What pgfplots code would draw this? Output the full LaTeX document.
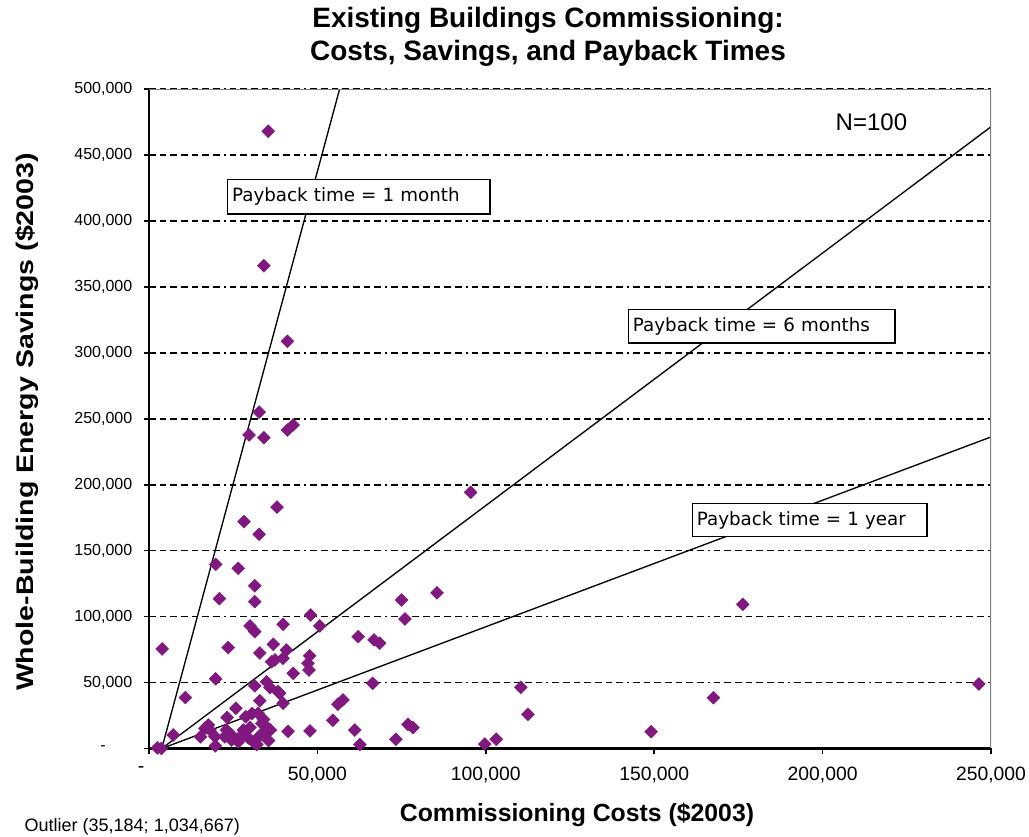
\documentclass[border=0pt]{standalone}
\usepackage{fontspec}
\setmainfont{Liberation Sans}
\newfontfamily\boxfont{DejaVu Sans}
\usepackage{pgfplots}
\pgfplotsset{compat=1.18}
\definecolor{mk}{RGB}{128,24,128}
\begin{document}
\begin{tikzpicture}
\path[use as bounding box] (0pt,0pt) rectangle (771.75pt,627.75pt);
\begin{axis}[
  at={(111.75pt,66.375pt)}, anchor=south west, scale only axis,
  width=631.5pt, height=494.6pt,
  xmin=0, xmax=250000, ymin=0, ymax=500000,
  scaled ticks=false,
  axis x line*=bottom, axis y line*=left,
  axis line style={black, line width=1.6pt},
  tick align=outside, major tick length=4pt,
  tick style={black, line width=1.2pt},
  xtick={0,50000,100000,150000,200000,250000},
  xticklabels={{-\hspace*{12pt}},{50,000},{100,000},{150,000},{200,000},{250,000}},
  ytick={0,50000,100000,150000,200000,250000,300000,350000,400000,450000,500000},
  yticklabels={{-\hspace*{20pt}},{50,000},{100,000},{150,000},{200,000},{250,000},{300,000},{350,000},{400,000},{450,000},{500,000}},
  xticklabel style={font=\fontsize{14.5}{14.5}\selectfont, yshift=-6pt},
  yticklabel style={font=\fontsize{12}{12}\selectfont, xshift=-5pt},
  ymajorgrids,
  grid style={black, line width=1.2pt, dash pattern=on 5pt off 3pt on 5pt off 3pt on 5pt off 3pt on 5pt off 3pt on 5pt off 3pt on 5pt off 3pt on 5pt off 3pt on 1.5pt off 3pt},
  clip=true,
]
\addplot[only marks, mark=square*, mark size=3.4pt, mark options={rotate=45, fill=mk, draw=mk}] coordinates {
(35400,468000) (34100,366000) (41100,308700) (32700,255000) (29700,237700)
(34100,235600) (41100,241500) (42800,245300) (38000,183000) (28200,172000)
(32700,162400) (19800,139600) (26500,136600) (31400,123400) (20900,113600)
(31400,111300) (48000,101200) (30000,92900) (31400,88600) (39800,94200)
(50700,92900) (62100,84800) (66800,82300) (68500,79800) (3900,75500)
(23500,76500) (36900,79000) (95500,194200) (85500,118000) (75000,112600)
(76000,98200) (110400,46400) (112500,25900) (76900,18300) (78400,15800)
(73300,7000) (99700,3400) (103100,7000) (176300,109300) (246400,48900)
(167600,38500) (149100,12700) (32900,72400) (36400,65800) (19800,52800)
(10800,38600) (7200,10200) (3700,0) (25800,30500) (31400,47500)
(32900,36200) (23200,23500) (28700,24100) (30600,26500) (17600,17800)
(16600,15300) (15300,8900) (19600,8900) (19700,2000) (22500,8900)
(24500,6400) (40800,74700) (37400,67100) (39800,68400) (47700,70300)
(47200,64600) (47500,59500) (42800,57000) (34900,50600) (35900,46200)
(38300,43100) (38800,41900) (39800,34300) (66400,49400) (56100,33600)
(57600,36800) (54600,21400) (61100,14000) (62600,3000) (47800,13300)
(41300,13000) (34700,17000) (28000,14000) (23000,14000) (24500,10200)
(32400,26700) (29500,8000) (31000,5000) (33000,10000) (34500,12000)
(33500,19000) (36000,14000) (30000,16000) (26500,5000) (2500,500)
(18100,14000) (35500,6000) (27500,10000) (32000,3000) (34000,22000)
};
\addplot[black, line width=1pt] coordinates {(3800,0) (56600,500000)};
\addplot[black, line width=1pt] coordinates {(3800,0) (250000,471400)};
\addplot[black, line width=1pt] coordinates {(3800,0) (250000,236200)};
\node[draw=black, line width=1pt, fill=white, anchor=west, text width=190pt, align=left, inner xsep=3.5pt, minimum height=26pt, font=\boxfont\fontsize{13.7}{13.7}\selectfont] at (axis cs:23100,418500) {Payback time = 1 month};
\node[draw=black, line width=1pt, fill=white, anchor=west, text width=193pt, align=left, inner xsep=3.5pt, minimum height=25pt, font=\boxfont\fontsize{13.7}{13.7}\selectfont] at (axis cs:142100,320000) {Payback time = 6 months};
\node[draw=black, line width=1pt, fill=white, anchor=west, text width=169pt, align=left, inner xsep=3.5pt, minimum height=25pt, font=\boxfont\fontsize{13.7}{13.7}\selectfont] at (axis cs:161100,173200) {Payback time = 1 year};
\node[font=\fontsize{18}{18}\selectfont] at (axis cs:214500,475000) {N=100};
\draw[gray, line width=1.2pt] (rel axis cs:0,1) -- (rel axis cs:1,1) -- (rel axis cs:1,0);
\end{axis}
\node[font=\bfseries\fontsize{21}{25}\selectfont, align=center] at ({548*0.75pt},{(837-37)*0.75pt}) {Existing Buildings Commissioning:\\Costs, Savings, and Payback Times};
\node[font=\bfseries\fontsize{18.6}{18.6}\selectfont] at ({577*0.75pt},{(837-815)*0.75pt}) {Commissioning Costs (\$2003)};
\node[font=\bfseries\fontsize{18}{18}\selectfont, rotate=90] at ({27*0.75pt},{(837-422)*0.75pt}) {\scalebox{1.19}[1]{Whole-Building Energy Savings (\$2003)}};
\node[font=\fontsize{13.5}{13.5}\selectfont, anchor=west] at ({20*0.75pt},{(837-827)*0.75pt}) {Outlier (35,184; 1,034,667)};
\end{tikzpicture}
\end{document}
